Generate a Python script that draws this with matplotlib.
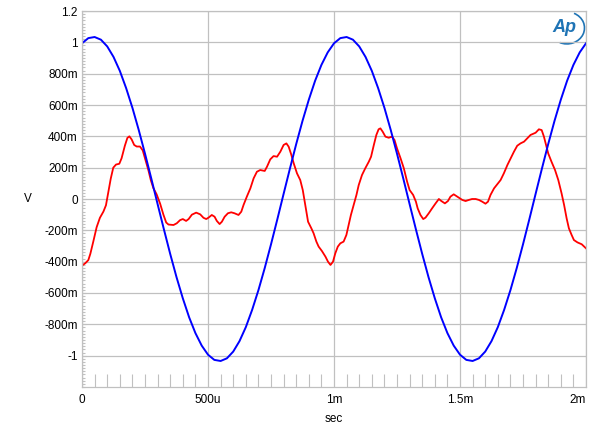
import matplotlib.pyplot as plt
import numpy as np
from matplotlib.ticker import MultipleLocator, FixedLocator
from matplotlib.patches import Arc

plt.rcParams['font.family'] = ['Liberation Sans', 'DejaVu Sans']

# Data (time in ms, voltage in V)
x_ticks = [0, 0.5, 1.0, 1.5, 2.0]
x_labels = ['0', '500u', '1m', '1.5m', '2m']
y_ticks = [-1.0, -0.8, -0.6, -0.4, -0.2, 0.0, 0.2, 0.4, 0.6, 0.8, 1.0, 1.2]
y_labels = ['-1', '-800m', '-600m', '-400m', '-200m', '0',
            '200m', '400m', '600m', '800m', '1', '1.2']

# blue trace, sampled every 25 us
t_blue = np.linspace(0, 2.0, 81)
v_blue = [0.994, 1.027, 1.034, 1.017, 0.974, 0.907, 0.818, 0.708, 0.582, 0.441,
          0.289, 0.130, -0.033, -0.194, -0.351, -0.499, -0.634, -0.755, -0.856, -0.936,
          -0.994, -1.027, -1.034, -1.017, -0.974, -0.907, -0.818, -0.708, -0.582, -0.441,
          -0.289, -0.130, 0.033, 0.194, 0.351, 0.499, 0.634, 0.755, 0.856, 0.936,
          0.994, 1.027, 1.034, 1.017, 0.974, 0.907, 0.818, 0.708, 0.582, 0.441,
          0.289, 0.130, -0.033, -0.194, -0.351, -0.499, -0.634, -0.755, -0.856, -0.936,
          -0.994, -1.027, -1.034, -1.017, -0.974, -0.907, -0.818, -0.708, -0.582, -0.441,
          -0.289, -0.130, 0.033, 0.194, 0.351, 0.499, 0.634, 0.755, 0.856, 0.936,
          0.994]

# red trace
t_red = [0.000, 0.013, 0.025, 0.033, 0.045, 0.058, 0.071, 0.085, 0.095, 0.104,
         0.114, 0.124, 0.135, 0.148, 0.157, 0.170, 0.180, 0.188, 0.197, 0.207,
         0.217, 0.230, 0.241, 0.250, 0.264, 0.273, 0.283, 0.296, 0.310, 0.323,
         0.334, 0.343, 0.363, 0.376, 0.389, 0.400, 0.413, 0.423, 0.436, 0.453,
         0.469, 0.482, 0.493,
         0.502, 0.515, 0.526, 0.535, 0.546, 0.555, 0.566, 0.579, 0.592, 0.605,
         0.621, 0.632, 0.641, 0.654, 0.668, 0.681, 0.694, 0.707, 0.725, 0.734,
         0.747, 0.760, 0.774, 0.787, 0.800, 0.811, 0.820, 0.830, 0.840, 0.853,
         0.866, 0.876, 0.886, 0.897, 0.910, 0.919, 0.930, 0.939, 0.952, 0.966,
         0.976, 0.986,
         0.996, 1.005, 1.015, 1.025, 1.038, 1.049, 1.058, 1.067, 1.078, 1.089,
         1.098, 1.111, 1.124, 1.138, 1.147, 1.158, 1.168, 1.177, 1.184, 1.193,
         1.204, 1.217, 1.230, 1.240, 1.250, 1.264, 1.277, 1.290, 1.300, 1.314,
         1.325, 1.332, 1.343, 1.354, 1.363, 1.376, 1.389, 1.403, 1.416, 1.426,
         1.440, 1.452, 1.462, 1.475,
         1.495, 1.509, 1.522, 1.535, 1.548, 1.562, 1.575, 1.588, 1.601, 1.611,
         1.621, 1.635, 1.648, 1.661, 1.674, 1.688, 1.701, 1.714, 1.727, 1.740,
         1.754, 1.767, 1.780, 1.800, 1.813, 1.824, 1.833, 1.840, 1.850, 1.863,
         1.877, 1.890, 1.903, 1.913, 1.923, 1.932, 1.943, 1.952, 1.966, 1.983,
         2.000]
v_red = [-0.425, -0.41, -0.39, -0.35, -0.27, -0.18, -0.12, -0.08, -0.04, 0.04,
         0.13, 0.20, 0.22, 0.225, 0.26, 0.34, 0.39, 0.40, 0.38, 0.345,
         0.335, 0.335, 0.31, 0.26, 0.18, 0.12, 0.07, 0.03, -0.03, -0.10,
         -0.15, -0.163, -0.166, -0.155, -0.135, -0.128, -0.14, -0.128, -0.10, -0.087,
         -0.098, -0.12, -0.128,
         -0.119, -0.102, -0.113, -0.14, -0.16, -0.145, -0.113, -0.091, -0.085, -0.091,
         -0.102, -0.081, -0.038, 0.015, 0.068, 0.132, 0.174, 0.185, 0.179, 0.206,
         0.253, 0.274, 0.270, 0.302, 0.345, 0.355, 0.334, 0.285, 0.228, 0.164,
         0.121, 0.057, -0.038, -0.145, -0.187, -0.219, -0.272, -0.304, -0.332, -0.368,
         -0.40, -0.421,
         -0.40, -0.347, -0.304, -0.283, -0.272, -0.23, -0.166, -0.102, -0.038, 0.026,
         0.089, 0.153, 0.196, 0.238, 0.270, 0.345, 0.409, 0.445, 0.451, 0.430,
         0.398, 0.391, 0.398, 0.377, 0.323, 0.260, 0.196, 0.111, 0.057, 0.026,
         -0.017, -0.060, -0.102, -0.128, -0.119, -0.091, -0.060, -0.028, 0.000, -0.013,
         -0.028, -0.013, 0.015, 0.030,
         0.009, -0.006, -0.013, -0.006, 0.000, 0.000, -0.006, -0.017, -0.030, -0.017,
         0.026, 0.068, 0.094, 0.121, 0.164, 0.217, 0.260, 0.302, 0.340, 0.355,
         0.366, 0.387, 0.409, 0.423, 0.445, 0.440, 0.398, 0.355, 0.291, 0.238,
         0.185, 0.121, 0.036, -0.038, -0.123, -0.187, -0.230, -0.262, -0.277, -0.289,
         -0.315]

grid_col = '#c0c0c0'

fig = plt.figure(figsize=(6, 4.32), dpi=100)
ax = fig.add_axes([0.1367, 0.1042, 0.84, 0.8703])

ax.plot(t_red, v_red, color='#ff0000', lw=1.3)
ax.plot(t_blue, v_blue, color='#0000ff', lw=1.4)

ax.set_xlim(0, 2.0)
ax.set_ylim(-1.2, 1.2)

ax.set_xticks(x_ticks)
ax.set_xticklabels(x_labels, fontsize=8.5)
ax.get_xticklabels()[-1].set_ha('right')
ax.yaxis.set_major_locator(FixedLocator(y_ticks))
ax.set_yticklabels(y_labels, fontsize=8.5)
ax.xaxis.set_minor_locator(MultipleLocator(0.05))
ax.yaxis.set_minor_locator(MultipleLocator(0.02))

ax.tick_params(axis='x', which='major', length=0, pad=5)
ax.tick_params(axis='x', which='minor', direction='in', length=9.5, color=grid_col, width=0.8)
ax.tick_params(axis='y', which='major', direction='in', length=3, color=grid_col, pad=3)
ax.tick_params(axis='y', which='minor', direction='in', length=2.5, color=grid_col, width=0.8)

ax.grid(which='major', color=grid_col, lw=0.9)
for s in ax.spines.values():
    s.set_color(grid_col)
    s.set_linewidth(0.9)

ax.set_xlabel('sec', fontsize=8.5, labelpad=5)
ax.set_ylabel('V', fontsize=8.5, rotation=0, labelpad=12, va='center')

# AP logo
logo_col = '#1f74b5'
ax.text(0.958, 0.955, 'Ap', transform=ax.transAxes, fontsize=13, style='italic',
        weight='bold', color=logo_col, ha='center', va='center')
ax.add_patch(Arc((0.962, 0.955), 0.07, 0.085, theta1=-110, theta2=70,
                 transform=ax.transAxes, color=logo_col, lw=1.2))

plt.savefig('out.png', dpi=100)
